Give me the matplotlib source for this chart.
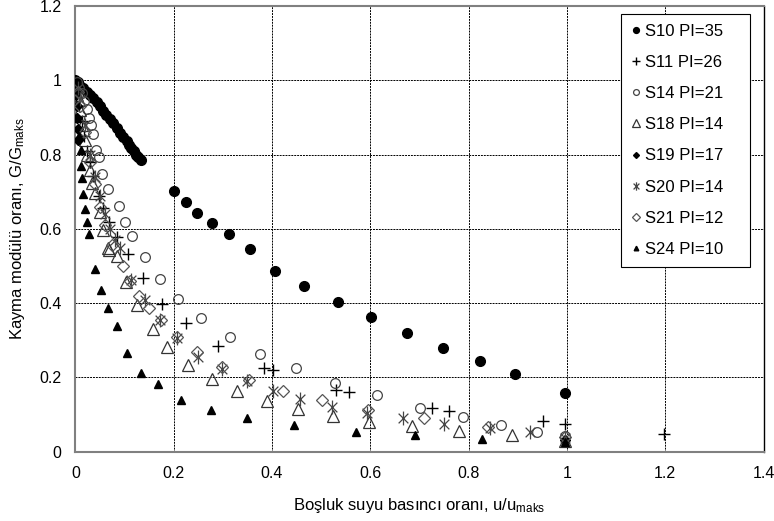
import numpy as np
import matplotlib
matplotlib.use("Agg")
import matplotlib.pyplot as plt
from matplotlib.path import Path

plt.rcParams['font.family'] = ['Liberation Sans', 'DejaVu Sans']
plt.rcParams['mathtext.fontset'] = 'custom'
plt.rcParams['mathtext.rm'] = 'Liberation Sans'
plt.rcParams['mathtext.it'] = 'Liberation Sans'

# values (u/umaks, G/Gmaks)
s10_x = [0.0, 0.002, 0.004, 0.006, 0.01, 0.016, 0.023, 0.03, 0.036, 0.043, 0.05, 0.057, 0.063,
         0.07, 0.077, 0.084, 0.09, 0.097, 0.104, 0.109, 0.114, 0.119, 0.123, 0.128, 0.133,
         0.200, 0.224, 0.248, 0.277, 0.313, 0.355, 0.406, 0.464, 0.535, 0.601, 0.675, 0.748,
         0.824, 0.894, 0.997]
s10_y = [1.0, 0.99, 0.98, 0.995, 0.985, 0.98, 0.97, 0.962, 0.953, 0.941, 0.93, 0.919, 0.908,
         0.897, 0.885, 0.872, 0.858, 0.847, 0.836, 0.827, 0.818, 0.809, 0.80, 0.793, 0.786,
         0.702, 0.672, 0.644, 0.615, 0.587, 0.546, 0.487, 0.447, 0.404, 0.363, 0.320, 0.279,
         0.244, 0.209, 0.157]

s11_x = [0.004, 0.008, 0.013, 0.018, 0.024, 0.030, 0.036, 0.048, 0.057, 0.069, 0.084, 0.107,
         0.138, 0.177, 0.225, 0.291, 0.384, 0.402, 0.530, 0.557, 0.725, 0.760, 0.952, 0.997,
         1.197]
s11_y = [0.97, 0.93, 0.89, 0.85, 0.81, 0.78, 0.743, 0.689, 0.656, 0.619, 0.578, 0.533,
         0.467, 0.398, 0.346, 0.285, 0.226, 0.220, 0.166, 0.160, 0.117, 0.110, 0.083, 0.074,
         0.047]

s14_x = [0.003, 0.008, 0.013, 0.018, 0.023, 0.028, 0.031, 0.035, 0.042, 0.047, 0.055, 0.067,
         0.089, 0.101, 0.116, 0.141, 0.173, 0.209, 0.255, 0.314, 0.376, 0.449, 0.529, 0.613,
         0.702, 0.788, 0.866, 0.940, 0.997]
s14_y = [0.995, 0.98, 0.965, 0.945, 0.923, 0.900, 0.881, 0.857, 0.813, 0.794, 0.749, 0.707,
         0.663, 0.620, 0.581, 0.524, 0.465, 0.411, 0.359, 0.310, 0.263, 0.226, 0.186, 0.153,
         0.119, 0.094, 0.072, 0.054, 0.042]

s18_x = [0.004, 0.009, 0.014, 0.019, 0.024, 0.029, 0.033, 0.040, 0.050, 0.057, 0.067, 0.069,
         0.084, 0.103, 0.125, 0.157, 0.187, 0.228, 0.278, 0.329, 0.389, 0.452, 0.525, 0.598,
         0.684, 0.781, 0.889, 0.997]
s18_y = [0.96, 0.92, 0.88, 0.84, 0.80, 0.76, 0.724, 0.697, 0.647, 0.598, 0.548, 0.544,
         0.526, 0.458, 0.395, 0.330, 0.281, 0.234, 0.195, 0.164, 0.137, 0.114, 0.096, 0.081,
         0.069, 0.056, 0.045, 0.030]

s19_x = [0.001, 0.002, 0.003, 0.004, 0.005, 0.006, 0.997]
s19_y = [0.99, 0.96, 0.93, 0.90, 0.87, 0.84, 0.032]

s20_x = [0.005, 0.010, 0.020, 0.030, 0.040, 0.050, 0.060, 0.070, 0.080, 0.0905, 0.113, 0.141,
         0.172, 0.207, 0.250, 0.299, 0.348, 0.4025, 0.457, 0.5225, 0.5925, 0.667, 0.750,
         0.843, 0.925, 0.997]
s20_y = [0.98, 0.95, 0.88, 0.80, 0.74, 0.69, 0.64, 0.60, 0.57, 0.548, 0.463, 0.409,
         0.355, 0.306, 0.256, 0.222, 0.190, 0.164, 0.141, 0.120, 0.105, 0.090, 0.074,
         0.063, 0.052, 0.036]

s21_x = [0.005, 0.010, 0.020, 0.030, 0.040, 0.050, 0.060, 0.0736, 0.097, 0.111, 0.130, 0.150,
         0.175, 0.207, 0.248, 0.2975, 0.354, 0.4215, 0.501, 0.596, 0.709, 0.839, 0.997]
s21_y = [0.97, 0.93, 0.86, 0.78, 0.72, 0.66, 0.61, 0.557, 0.499, 0.461, 0.420, 0.386,
         0.355, 0.308, 0.268, 0.229, 0.193, 0.164, 0.139, 0.112, 0.090, 0.067, 0.040]

s24_x = [0.004, 0.007, 0.0106, 0.0106, 0.0126, 0.016, 0.019, 0.023, 0.028, 0.0397, 0.0519,
         0.0667, 0.0838, 0.1048, 0.133, 0.167, 0.2146, 0.2757, 0.3495, 0.4445, 0.570,
         0.6907, 0.8265, 0.997]
s24_y = [0.90, 0.85, 0.813, 0.770, 0.737, 0.695, 0.653, 0.619, 0.587, 0.493, 0.436,
         0.386, 0.339, 0.265, 0.211, 0.182, 0.139, 0.112, 0.090, 0.072, 0.054,
         0.045, 0.033, 0.025]

# asterisk marker like the spreadsheet one: vertical bar plus an X
ast = Path([(0, -1), (0, 1), (-0.7, -0.7), (0.7, 0.7), (-0.7, 0.7), (0.7, -0.7)],
           [Path.MOVETO, Path.LINETO, Path.MOVETO, Path.LINETO, Path.MOVETO, Path.LINETO])

fig = plt.figure(figsize=(7.74, 5.21), dpi=100)
ax = fig.add_axes([0.0975, 0.133, 0.889, 0.855])

ax.plot(s10_x, s10_y, 'o', ms=7, color='black', label='S10 PI=35', zorder=3)
ax.plot(s11_x, s11_y, '+', ms=9, mew=1.0, color='black', label='S11 PI=26', zorder=3)
ax.plot(s14_x, s14_y, 'o', ms=7, mfc='none', mec='#444444', mew=0.9, label='S14 PI=21', zorder=3)
ax.plot(s18_x, s18_y, '^', ms=8.5, mfc='none', mec='#333333', mew=0.9, label='S18 PI=14', zorder=3)
ax.plot(s19_x, s19_y, 'D', ms=5, color='black', label='S19 PI=17', zorder=3)
ax.plot(s20_x, s20_y, marker=ast, ls='none', ms=10, mew=0.9, color='#444444', label='S20 PI=14', zorder=3)
ax.plot(s21_x, s21_y, 'D', ms=6.5, mfc='none', mec='#555555', mew=0.9, label='S21 PI=12', zorder=3)
ax.plot(s24_x, s24_y, '^', ms=5.5, color='black', label='S24 PI=10', zorder=3)

ax.set_xlim(0, 1.4)
ax.set_ylim(0, 1.2)
ax.set_xticks(np.arange(0, 1.41, 0.2))
ax.set_yticks(np.arange(0, 1.21, 0.2))
ax.set_xticklabels(['0', '0.2', '0.4', '0.6', '0.8', '1', '1.2', '1.4'])
ax.set_yticklabels(['0', '0.2', '0.4', '0.6', '0.8', '1', '1.2'])
ax.tick_params(length=0, labelsize=11.5, pad=10)
ax.grid(True, color='black', linestyle=(0, (2, 1)), linewidth=0.7)
ax.set_axisbelow(True)
for side in ['left', 'bottom', 'top']:
    ax.spines[side].set_color('#808080')
    ax.spines[side].set_linewidth(1.5)
ax.spines['right'].set_color('black')
ax.spines['right'].set_linewidth(1.0)

ax.set_xlabel(r'Boşluk suyu basıncı oranı, u/u$_{\mathrm{maks}}$', fontsize=12, labelpad=11)
ax.set_ylabel(r'Kayma modülü oranı, G/G$_{\mathrm{maks}}$', fontsize=12, labelpad=9)

# legend box stretched to the width it has in the reference
leg = ax.legend(loc='upper right', bbox_to_anchor=(0.793, 0.5, 0.188, 0.483), mode='expand',
                borderaxespad=0, fontsize=12, markerscale=0.6, handlelength=0.6,
                handletextpad=0.25, labelspacing=0.97, borderpad=0.6,
                fancybox=False, framealpha=1)
leg.get_frame().set_edgecolor('black')
leg.get_frame().set_linewidth(0.8)

fig.savefig('out.png', dpi=100)
